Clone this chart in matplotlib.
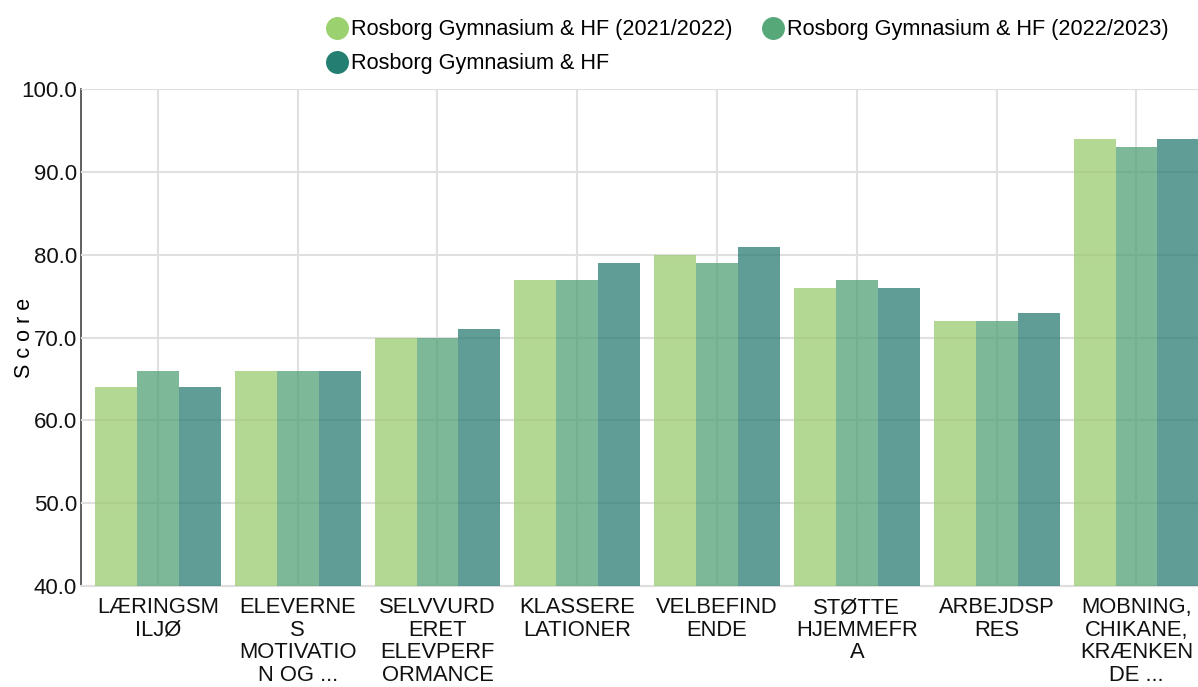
import numpy as np
import matplotlib
matplotlib.use('Agg')
import matplotlib.pyplot as plt
from matplotlib.lines import Line2D

plt.rcParams['font.family'] = ['Liberation Sans', 'DejaVu Sans']

# data
categories = ['LÆRINGSM\nILJØ', 'ELEVERNE\nS\nMOTIVATIO\nN OG ...',
              'SELVVURD\nERET\nELEVPERF\nORMANCE', 'KLASSERE\nLATIONER',
              'VELBEFIND\nENDE', 'STØTTE\nHJEMMEFR\nA', 'ARBEJDSP\nRES',
              'MOBNING,\nCHIKANE,\nKRÆNKEN\nDE ...']
series_names = ['Rosborg Gymnasium & HF (2021/2022)',
                'Rosborg Gymnasium & HF (2022/2023)',
                'Rosborg Gymnasium & HF']
scores_2122 = [64, 66, 70, 77, 80, 76, 72, 94]
scores_2223 = [66, 66, 70, 77, 79, 77, 72, 93]
scores_now = [64, 66, 71, 79, 81, 76, 73, 94]
yticks = [40, 50, 60, 70, 80, 90, 100]

colors = ['#9acb6f', '#52a076', '#2a7c73']
legend_colors = ['#9bd26f', '#57a878', '#247e72']

fig = plt.figure(figsize=(11.98, 6.87), dpi=100)
ax = fig.add_axes([0.0676, 0.147, 0.9324, 0.723])

x = np.arange(len(categories))
width = 0.3
for i, vals in enumerate([scores_2122, scores_2223, scores_now]):
    ax.bar(x + (i - 1) * width, np.array(vals) - 40, bottom=40, width=width,
           color=colors[i], alpha=0.75, zorder=3, linewidth=0)

ax.set_ylim(40, 100)
ax.set_xlim(-0.55, 7.44)
ax.set_yticks(yticks)
ax.set_yticklabels([f'{v:.1f}' for v in yticks], fontsize=16, color='#111111')
ax.set_xticks(x)
ax.set_xticklabels(categories, fontsize=15.8, linespacing=1.1, color='#111111')
ax.tick_params(axis='both', length=0)
ax.tick_params(axis='x', pad=8)
ax.tick_params(axis='y', pad=3)
ax.grid(True, color='#e0e0e0', linewidth=1.5, zorder=4)
ax.set_axisbelow(False)
for s in ['top', 'right']:
    ax.spines[s].set_visible(False)
ax.spines['left'].set_color('#444444')
ax.spines['left'].set_linewidth(1.2)
ax.spines['bottom'].set_color('#dddddd')
ax.spines['bottom'].set_linewidth(1.5)
ax.set_ylabel('S c o r e', fontsize=15.5)
ax.yaxis.set_label_coords(-0.041, 0.5)

# legend fills column-wise, so reorder to get row-wise layout
order = [0, 2, 1]
handles = [Line2D([0], [0], marker='o', linestyle='', markersize=15.5,
                  markerfacecolor=legend_colors[i], markeredgecolor=legend_colors[i])
           for i in order]
fig.legend(handles, [series_names[i] for i in order], loc='upper left', ncol=2,
           bbox_to_anchor=(0.255, 0.997), frameon=False, fontsize=15.6,
           handletextpad=0.0, columnspacing=1.2, labelspacing=0.6,
           handlelength=1.3, borderaxespad=0.4)

fig.savefig('out.png', dpi=100)
